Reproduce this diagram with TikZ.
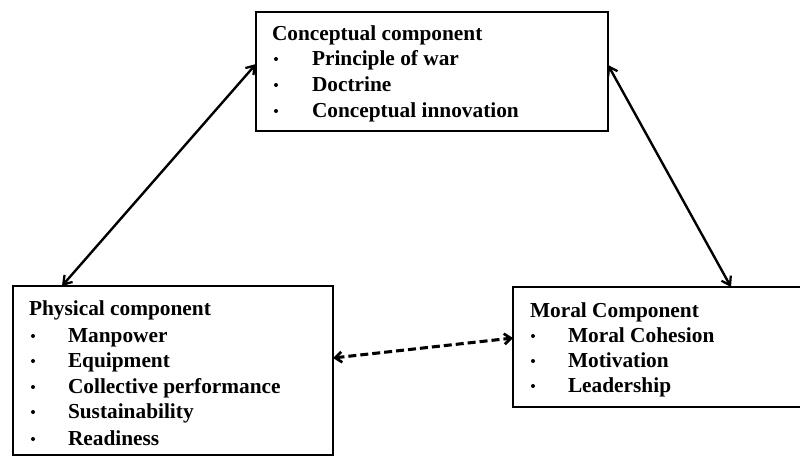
\documentclass[tikz,border=0pt]{standalone}
\usepackage{fontspec}
\setmainfont{Liberation Serif}
\usetikzlibrary{arrows.meta,fit,calc}
\begin{document}
\begin{tikzpicture}[x=0.75pt,y=-0.75pt,
  box/.style={draw, line width=2.1pt, inner sep=0pt, outer sep=0pt, rectangle},
  txt/.style={anchor=base west, inner sep=0pt, outer sep=0pt, font=\fontsize{16}{18}\selectfont\bfseries},
  bul/.style={fill, circle, inner sep=0pt, minimum size=3pt},
  link/.style={line width=1.8pt, {Straight Barb[length=6pt,width=8pt,line width=1.7pt]}-{Straight Barb[length=6pt,width=8pt,line width=1.7pt]}},
  dlink/.style={line width=2.3pt, dash pattern=on 6pt off 3pt, {Straight Barb[length=5pt,width=8pt,line width=2pt]}-{Straight Barb[length=5pt,width=8pt,line width=2pt]}}
]
\useasboundingbox (0,0) rectangle (800,458);
\clip (0,0) rectangle (800,458);
\fill[white] (0,0) rectangle (800,458);

% box corners
\coordinate (c1) at (256,12);  \coordinate (c2) at (608,131);
\coordinate (p1) at (13,286);  \coordinate (p2) at (333,455);
\coordinate (m1) at (513,287); \coordinate (m2) at (806,407);

\node[box, fit=(c1)(c2)] (concept) {};
\node[box, fit=(p1)(p2)] (phys) {};
\node[box, fit=(m1)(m2)] (moral) {};

% Conceptual text
\node[txt] (ct) at (272,40) {Conceptual component};
\node[bul] (cb1) at (276,59) {};
\node[bul] (cb2) at (276,85) {};
\node[bul] (cb3) at (276,111) {};
\node[txt] (ci1) at (312,65) {Principle of war};
\node[txt] (ci2) at (312,91) {Doctrine};
\node[txt] (ci3) at (312,117) {Conceptual innovation};

% Physical text
\node[txt] (pt) at (29,315) {Physical component};
\node[bul] (pb1) at (33,336) {};
\node[bul] (pb2) at (33,361) {};
\node[bul] (pb3) at (33,387) {};
\node[bul] (pb4) at (33,412) {};
\node[bul] (pb5) at (33,439) {};
\node[txt] (pi1) at (68,342) {Manpower};
\node[txt] (pi2) at (68,367) {Equipment};
\node[txt] (pi3) at (68,393) {Collective performance};
\node[txt] (pi4) at (68,418) {Sustainability};
\node[txt] (pi5) at (68,445) {Readiness};

% Moral text
\node[txt] (mt) at (530,317) {Moral Component};
\node[bul] (mb1) at (533,336) {};
\node[bul] (mb2) at (533,361) {};
\node[bul] (mb3) at (533,386) {};
\node[txt] (mi1) at (568,342) {Moral Cohesion};
\node[txt] (mi2) at (568,367) {Motivation};
\node[txt] (mi3) at (568,392) {Leadership};

% connectors
\draw[link] ($(concept.north west)!0.437!(concept.south west)$) -- ($(phys.north west)!0.153!(phys.north east)$);
\draw[link] ($(concept.north east)!0.445!(concept.south east)$) -- ($(moral.north west)!0.744!(moral.north east)$);
\draw[dlink] ($(phys.north east)!0.426!(phys.south east)$) -- ($(moral.north west)!0.425!(moral.south west)$);
\end{tikzpicture}
\end{document}
